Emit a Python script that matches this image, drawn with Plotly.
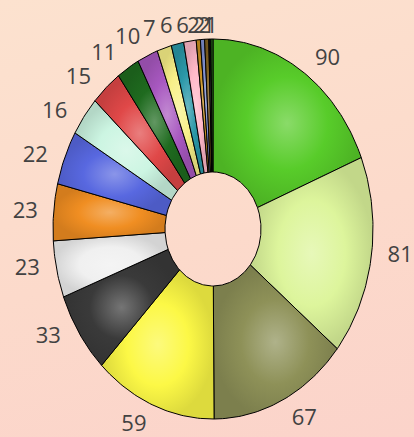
import numpy as np
import plotly.graph_objects as go

values = [90, 81, 67, 59, 33, 23, 23, 22, 16, 15, 11, 10, 7, 6, 6, 2, 2, 2, 1, 1]
colors = ["#58CC2A", "#DDF59C", "#8E9158", "#FCF846", "#3A3A3A", "#F0F0F0",
          "#F08E22", "#5868E0", "#CCF5E2", "#E04848", "#1F6B1F", "#A858C0",
          "#F8F088", "#2A98A8", "#FFB8C8", "#C89020", "#8090D0", "#806020",
          "#111111", "#2E7D1E"]

HOLE = 0.30
RX, RY = 160.0, 190.0      # ellipse half-axes in pixels
CX, CY = 213.0, 229.0      # ellipse centre in pixels (from top-left)
W, H = 414, 437
TOP_LIMIT = 27.0           # labels never placed above this pixel row


def shade(hex_color, f):
    r, g, b = (int(hex_color[k:k + 2], 16) for k in (1, 3, 5))
    if f >= 0:
        r, g, b = (int(x + (255 - x) * f) for x in (r, g, b))
    else:
        r, g, b = (int(x * (1 + f)) for x in (r, g, b))
    return "rgb(%d,%d,%d)" % (r, g, b)


total = float(sum(values))
cum = np.concatenate([[0.0], np.cumsum(values)]) / total * 2 * np.pi

fig = go.Figure()
for i, v in enumerate(values):
    t0, t1 = cum[i], cum[i + 1]
    n = max(3, int(np.degrees(t1 - t0)) + 2)
    t = np.linspace(t0, t1, n)
    xs = np.concatenate([np.sin(t), HOLE * np.sin(t[::-1]), [np.sin(t0)]])
    ys = np.concatenate([np.cos(t), HOLE * np.cos(t[::-1]), [np.cos(t0)]])
    fig.add_trace(go.Scatter(
        x=xs, y=ys, mode="lines", fill="toself",
        fillcolor=colors[i],
        fillgradient=dict(type="radial", colorscale=[
            [0, shade(colors[i], 0.30)], [0.55, colors[i]], [1, shade(colors[i], -0.12)]]),
        line=dict(color="#000000", width=1),
        hoverinfo="text", text=str(v), showlegend=False,
    ))

# labels: along the pixel-space mid angle, just outside the rim
texts = [str(v) for v in values]
nchar = np.array([len(t) for t in texts])
mid = (cum[:-1] + cum[1:]) / 2
s, c = np.sin(mid), np.cos(mid)
rim = 1.0 / np.sqrt((s / RX) ** 2 + (c / RY) ** 2)
gap = 18 + 5 * nchar * np.abs(s) + np.where(c > 0, 3, 6) * np.abs(c)
d = rim + gap
lx = d * s / RX
ly = np.minimum(d * c / RY, (CY - TOP_LIMIT) / RY)
fig.add_trace(go.Scatter(
    x=lx, y=ly,
    mode="text", text=texts,
    textfont=dict(family="Open Sans", size=22, color="#424242"),
    hoverinfo="skip", showlegend=False, cliponaxis=False,
))

fig.update_layout(
    width=W, height=H,
    margin=dict(l=0, r=0, t=0, b=0),
    paper_bgcolor="rgba(0,0,0,0)",
    plot_bgcolor="rgba(0,0,0,0)",
    xaxis=dict(range=[-CX / RX, (W - CX) / RX], visible=False, fixedrange=True),
    yaxis=dict(range=[-(H - CY) / RY, CY / RY], visible=False, fixedrange=True),
)

post = (
    "document.body.style.margin='0';"
    "document.body.style.overflow='hidden';"
    "document.documentElement.style.background="
    "'linear-gradient(165deg, #FCE2CF 0%, #FCDACB 55%, #FBD3CA 100%)';"
    "document.body.style.background='transparent';"
)
fig.write_html("out.html", post_script=post, config={"displayModeBar": False})
